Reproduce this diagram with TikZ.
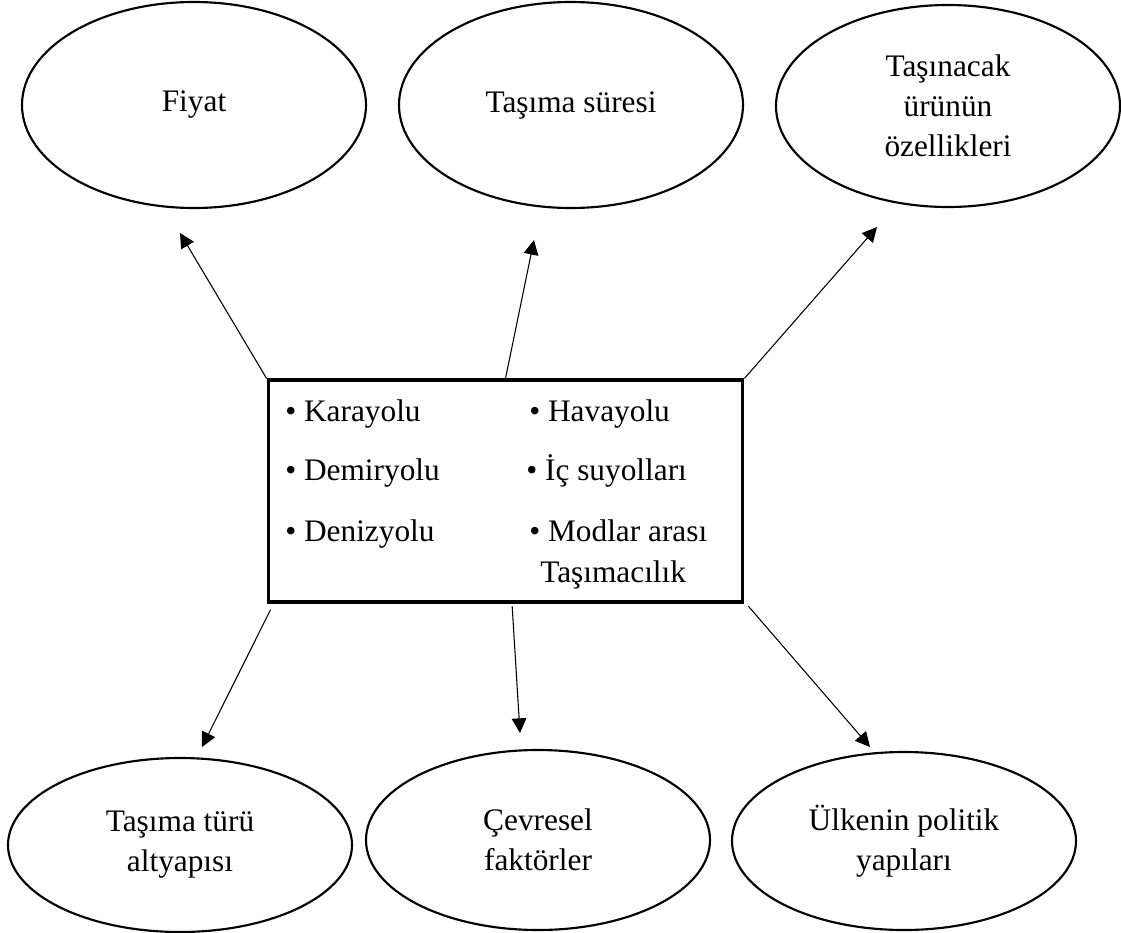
\documentclass[tikz,border=0pt]{standalone}
\usepackage{fontspec}
\setmainfont{Liberation Serif}
\usetikzlibrary{shapes.geometric,arrows.meta}
\begin{document}
\begin{tikzpicture}[x=0.75pt,y=-0.75pt,
    every node/.style={font=\fontsize{23.5pt}{30pt}\selectfont},
    factor/.style={draw,ellipse,line width=1.6pt,minimum width=258pt,inner sep=0pt,align=center},
    modes/.style={draw,rectangle,line width=2.4pt,minimum width=356pt,minimum height=166.5pt},
    item/.style={anchor=base west,inner sep=0pt,align=left},
    arr/.style={-{Triangle[length=11pt,width=11pt]},line width=0.8pt}]
      \useasboundingbox (0,0) rectangle (1121,932);
      \draw
        (194,105) node[factor,minimum height=154.5pt] (fiyat){Fiyat}
        (571,105) node[factor,minimum height=154.5pt] (sure){Taşıma süresi}
        (948,106) node[factor,minimum height=151.5pt] (urun){Taşınacak\\ürünün\\özellikleri}
        (180,845) node[factor,minimum height=130.5pt] (altyapi){Taşıma türü\\altyapısı}
        (538,840) node[factor,minimum height=135pt] (cevre){Çevresel\\faktörler}
        (904,841) node[factor,minimum height=133.5pt] (politik){Ülkenin politik\\yapıları};
      \node[modes] (box) at (505.5,491) {};
      \draw
        (285,421) node[item] (kara){• Karayolu}
        (285,480) node[item] (demir){• Demiryolu}
        (285,541) node[item] (deniz){• Denizyolu}
        (529,421) node[item] (hava){• Havayolu}
        (526,480) node[item] (icsu){• İç suyolları}
        (529,541) node[item] (modlar){• Modlar arası}
        (540,582) node[item] (tasima){Taşımacılık};
      \coordinate (fiyat-ok) at (180,233);
      \coordinate (sure-ok) at (534,240);
      \coordinate (urun-ok) at (877,227);
      \coordinate (altyapi-ok) at (202,747);
      \coordinate (cevre-ok) at (520,733);
      \coordinate (politik-ok) at (870,747);
      \begin{scope}[arr]
        \draw (box.north west) to (fiyat-ok);
        \draw (box.north) to (sure-ok);
        \draw (box.north east) to (urun-ok);
        \draw ([xshift=3pt,yshift=-4.5pt]box.south west) to (altyapi-ok);
        \draw ([xshift=5pt,yshift=-2pt]box.south) to (cevre-ok);
        \draw ([xshift=3pt,yshift=-2pt]box.south east) to (politik-ok);
      \end{scope}
    \end{tikzpicture}
\end{document}
